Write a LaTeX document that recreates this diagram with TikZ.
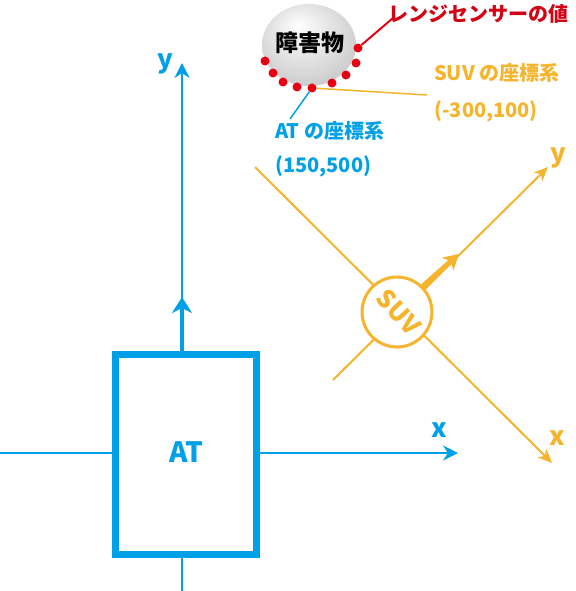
\documentclass[tikz,border=0pt]{standalone}
\usepackage{fontspec}
\setmainfont{Noto Sans CJK JP}
\usetikzlibrary{arrows.meta}
\definecolor{atblue}{RGB}{0,160,233}
\definecolor{suvor}{RGB}{246,180,45}
\definecolor{sred}{RGB}{230,0,18}
\definecolor{tred}{RGB}{212,0,20}
\pgfdeclareradialshading{obsball}{\pgfpoint{-6bp}{12bp}}{%
  color(0bp)=(white); color(12bp)=(black!8); color(30bp)=(black!20);
  color(42bp)=(black!35); color(50bp)=(black!48)}
\tikzset{
  lbl/.style={font=\bfseries\fontsize{20}{24}\selectfont, inner sep=0pt, anchor=west},
  axlbl/.style={font=\bfseries\fontsize{26}{30}\selectfont, inner sep=0pt},
  blueax/.style={draw=atblue, line width=2pt},
  orax/.style={draw=suvor, line width=2pt},
  bluetip/.style={-{Stealth[length=15pt,width=15pt,inset=5pt]}},
  ortip/.style={-{Stealth[length=14pt,width=12pt,inset=4pt]}},
  dot/.style={circle, fill=sred, minimum size=9pt, inner sep=0pt},
}
\begin{document}
\begin{tikzpicture}[x=1pt,y=-1pt]
\useasboundingbox (0,0) rectangle (575,591);
% --- AT frame ---
\coordinate (axL) at (0,453);
\coordinate (axR) at (458,453);
\coordinate (ayB) at (182,591);
\coordinate (ayT) at (182,63);
\draw[blueax, bluetip] (axL) -- (axR);
\draw[blueax, bluetip] (ayB) -- (ayT);
\node[draw=atblue, fill=white, line width=7pt, minimum width=141pt, minimum height=200pt, inner sep=0pt] (at) at (186,454.5) {};
\node[text=atblue, font=\bfseries\fontsize{28}{32}\selectfont, inner sep=0pt] (attxt) at (186,452) {AT};
\coordinate (atup) at (182,297);
\draw[draw=atblue, line width=4.5pt, -{Stealth[length=16pt,width=20pt,inset=5pt]}] (182,351) -- (atup);
\node[axlbl, text=atblue] (ylab) at (165,64) {y};
\node[axlbl, text=atblue] (xlab) at (439,430) {x};
% --- SUV frame ---
\coordinate (sxA) at (255,167);
\coordinate (sxB) at (552,463);
\coordinate (syA) at (333,380);
\coordinate (syB) at (548,167);
\draw[orax, ortip] (sxA) -- (sxB);
\draw[orax, ortip] (syA) -- (syB);
\node[circle, draw=suvor, fill=white, line width=3pt, minimum size=70pt, inner sep=0pt] (suv) at (397,312) {};
\node[text=suvor, font=\bfseries\fontsize{25}{28}\selectfont, rotate=-47, inner sep=0pt] (suvtxt) at (399,312) {SUV};
\coordinate (suvup) at (459,254);
\draw[draw=suvor, line width=5pt, -{Stealth[length=15pt,width=17pt,inset=4pt]}] (suv.45) -- (suvup);
\node[axlbl, text=suvor] (sylab) at (558,158) {y};
\node[axlbl, text=suvor] (sxlab) at (557,438) {x};
% --- obstacle ---
\shade[shading=obsball] (309,45) ellipse [x radius=47pt, y radius=41pt];
\node[font=\bfseries\fontsize{23}{26}\selectfont, inner sep=0pt] (obs) at (310,43) {障害物};
\foreach \i/\p in {1/{265,61},2/{273,73},3/{283,82},4/{297,87},5/{312,88},6/{332,83},7/{346,75},8/{356,63},9/{358,48}}
  \node[dot] (d\i) at (\p) {};
% --- labels ---
\node[lbl, text=tred] (rtxt) at (388,14) {レンジセンサーの値};
\coordinate (rend) at (393,18);
\draw[draw=sred, line width=2pt] (d9) -- (rend);
\node[lbl, text=suvor] (suvl) at (434,73) {SUV の座標系};
\node[lbl, text=suvor] (suvv) at (434,111) {(-300,100)};
\coordinate (oend) at (427,95);
\draw[orax, line width=1.5pt] (d5) -- (oend);
\node[lbl, text=atblue] (atl) at (275,131) {AT の座標系};
\node[lbl, text=atblue] (atv) at (275,166) {(150,500)};
\coordinate (bend) at (290,119);
\draw[blueax, line width=1.5pt] (d5) -- (bend);
\end{tikzpicture}
\end{document}
